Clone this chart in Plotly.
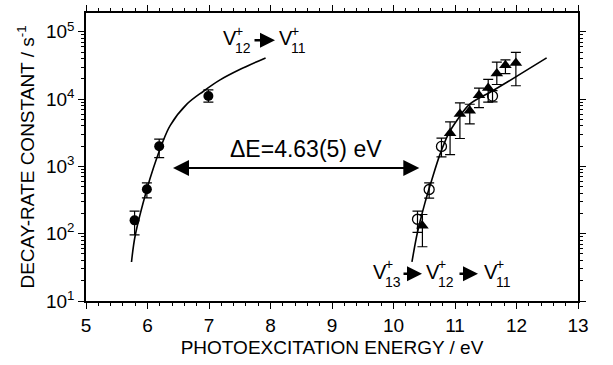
import math
import plotly.graph_objects as go

# ---------------- data ----------------
# V12+ -> V11+ (filled circles)
e_v12 = [5.79, 5.99, 6.19, 6.99]
k_v12 = [158, 459, 1990, 11100]
k_v12_hi = [216, 568, 2540, 13700]
k_v12_lo = [96, 340, 1350, 9000]

# V13+ -> V12+ -> V11+ (open circles)
e_open = [10.39, 10.58, 10.78, 11.61]
k_open = [164, 454, 1985, 11100]
k_open_hi = [216, 568, 2630, 13400]
k_open_lo = [105, 337, 1390, 9080]

# V13+ -> V12+ -> V11+ (filled triangles)
e_tri = [10.47, 10.92, 11.08, 11.24, 11.39, 11.54, 11.68, 11.82, 11.99]
k_tri = [131, 3100, 6000, 6700, 11400, 14600, 24000, 31800, 34400]
k_tri_hi = [193, 4600, 8800, 8400, 14600, 19700, 35500, 38400, 49500]
k_tri_lo = [64, 1500, 2600, 4300, 7500, 9000, 16500, 24000, 15800]

# fitted curves
fit1_e = [5.74, 5.80, 5.99, 6.10, 6.23, 6.37, 6.64, 6.91, 7.18, 7.50, 7.92]
fit1_k = [38, 94, 459, 969, 2100, 4080, 8410, 13100, 19300, 27500, 41000]
fit2_e = [10.30, 10.39, 10.51, 10.62, 10.76, 10.89, 11.05, 11.24, 11.60, 12.08, 12.49]
fit2_k = [38, 105, 285, 620, 1550, 3000, 5100, 8400, 13100, 24100, 41000]

# double arrow (Delta E)
arrow_e = [6.39, 10.42]
arrow_k = 950

x_ticks = [5, 6, 7, 8, 9, 10, 11, 12, 13]
y_ticks = [10, 100, 1000, 10000, 100000]
y_ticktext = ["10<sup>1</sup>", "10<sup>2</sup>", "10<sup>3</sup>", "10<sup>4</sup>", "10<sup>5</sup>"]

FONT = "Arial, Liberation Sans, Helvetica, sans-serif"

# ---------------- layout geometry ----------------
W, H = 613, 365
ML, MR, MT, MB = 86, 35, 5, 64
PW, PH = W - ML - MR, H - MT - MB


def P(px, py):
    """pixel position -> paper coordinates (for text placement only)"""
    return (px - ML) / PW, (H - MB - py) / PH


def err(vals, hi, lo):
    return [h - v for h, v in zip(hi, vals)], [v - l for v, l in zip(vals, lo)]


fig = go.Figure()

fig.add_trace(go.Scatter(x=fit1_e, y=fit1_k, mode="lines", line=dict(color="black", width=1.6, shape="spline"),
                         showlegend=False, hoverinfo="skip"))
fig.add_trace(go.Scatter(x=fit2_e, y=fit2_k, mode="lines", line=dict(color="black", width=1.6, shape="spline"),
                         showlegend=False, hoverinfo="skip"))

p, m = err(k_v12, k_v12_hi, k_v12_lo)
fig.add_trace(go.Scatter(x=e_v12, y=k_v12, mode="markers",
                         marker=dict(symbol="circle", size=10, color="black"),
                         error_y=dict(type="data", symmetric=False, array=p, arrayminus=m,
                                      color="black", thickness=1.2, width=5),
                         showlegend=False))
p, m = err(k_open, k_open_hi, k_open_lo)
fig.add_trace(go.Scatter(x=e_open, y=k_open, mode="markers",
                         marker=dict(symbol="circle-open", size=10, color="black", line=dict(width=1.3)),
                         error_y=dict(type="data", symmetric=False, array=p, arrayminus=m,
                                      color="black", thickness=1.2, width=5),
                         showlegend=False))
p, m = err(k_tri, k_tri_hi, k_tri_lo)
fig.add_trace(go.Scatter(x=e_tri, y=k_tri, mode="markers",
                         marker=dict(symbol="triangle-up", size=11, color="black"),
                         error_y=dict(type="data", symmetric=False, array=p, arrayminus=m,
                                      color="black", thickness=1.2, width=5),
                         showlegend=False))

ann = []
# Delta E double arrow
ann.append(dict(x=arrow_e[1], y=math.log10(arrow_k), ax=arrow_e[0], ay=math.log10(arrow_k),
                xref="x", yref="y", axref="x", ayref="y", text="", showarrow=True,
                arrowhead=2, startarrowhead=2, arrowside="end+start", arrowsize=1.6, startarrowsize=1.6,
                arrowwidth=2, arrowcolor="black", standoff=0, startstandoff=0))
px_, py_ = P(305.5, 145)
ann.append(dict(x=px_, y=py_, xref="paper", yref="paper", text="\u0394E=4.63(5) eV", showarrow=False,
                font=dict(family=FONT, size=23, color="black"), xanchor="center", yanchor="middle"))


def vlabel(cx, cy, sub, size=20):
    out = []
    x, y = P(cx, cy)
    out.append(dict(x=x, y=y, xref="paper", yref="paper", text="V", showarrow=False,
                    font=dict(family=FONT, size=size, color="black"), xanchor="center", yanchor="middle"))
    x, y = P(cx + 9, cy - 8)
    out.append(dict(x=x, y=y, xref="paper", yref="paper", text="+", showarrow=False,
                    font=dict(family=FONT, size=14, color="black"), xanchor="center", yanchor="middle"))
    x, y = P(cx + 13, cy + 10)
    out.append(dict(x=x, y=y, xref="paper", yref="paper", text=sub, showarrow=False,
                    font=dict(family=FONT, size=14, color="black"), xanchor="center", yanchor="middle"))
    return out


def small_arrow(x0, x1, y):
    a, b = P(x1, y)
    return dict(x=a, y=b, xref="paper", yref="paper", ax=-(x1 - x0), ay=0, text="", showarrow=True,
                arrowhead=2, arrowsize=1.2, arrowwidth=2.5, arrowcolor="black", standoff=0)


# top label V12+ -> V11+
ann += vlabel(230, 31, "12")
ann.append(small_arrow(253, 275, 33))
ann += vlabel(285.5, 31, "11")

# bottom label V13+ -> V12+ -> V11+
ann += vlabel(380, 271, "13")
ann.append(small_arrow(402, 422, 273))
ann += vlabel(432.5, 271, "12")
ann.append(small_arrow(458, 478, 273))
ann += vlabel(490.5, 271, "11")

axis_common = dict(showline=True, linecolor="black", linewidth=1.5, mirror="allticks",
                   ticks="outside", tickcolor="black", tickwidth=1.3, ticklen=6,
                   showgrid=False, zeroline=False,
                   tickfont=dict(family=FONT, size=19, color="black"))

fig.update_layout(
    width=W, height=H,
    margin=dict(l=ML, r=MR, t=MT, b=MB),
    paper_bgcolor="white", plot_bgcolor="white",
    annotations=ann,
    xaxis=dict(range=[5, 13], tickvals=x_ticks,
               minor=dict(ticks="outside", ticklen=3, tickwidth=1, dtick=0.2, tickcolor="black"),
               title=dict(text="PHOTOEXCITATION ENERGY / eV", font=dict(family=FONT, size=19, color="black"),
                          standoff=6),
               **axis_common),
    yaxis=dict(type="log", range=[1, 5.28], tickvals=y_ticks, ticktext=y_ticktext,
               minor=dict(ticks="outside", ticklen=3, tickwidth=1, dtick="D1", tickcolor="black"),
               title=dict(text="DECAY-RATE CONSTANT / s<sup>-1</sup>",
                          font=dict(family=FONT, size=19, color="black"), standoff=6),
               **axis_common),
)

fig.write_html("out.html")
